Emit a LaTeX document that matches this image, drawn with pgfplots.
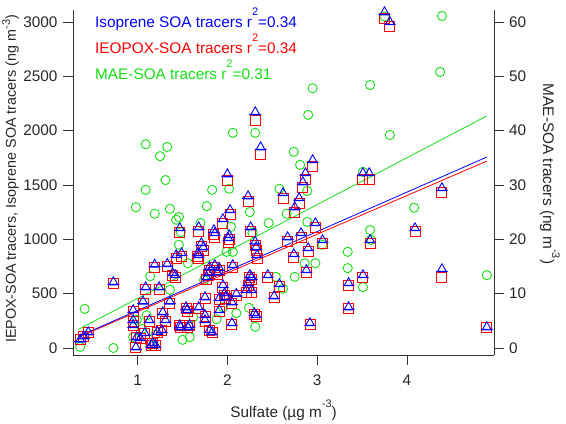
\documentclass[border=0pt]{standalone}
\usepackage{fontspec}
\setmainfont{Liberation Sans}
\usepackage{pgfplots}
\pgfplotsset{compat=1.18}
\definecolor{cblue}{RGB}{0,0,255}
\definecolor{cred}{RGB}{255,0,0}
\definecolor{cgreen}{RGB}{20,225,20}
\definecolor{taxis}{RGB}{50,50,50}
\newcommand{\spx}[2][0.8em]{\raisebox{#1}{\fontsize{11}{11}\selectfont #2}}
\pgfdeclareplotmark{tribar}{%
  \pgfpathmoveto{\pgfqpoint{0pt}{1.05\pgfplotmarksize}}%
  \pgfpathlineto{\pgfqpoint{-0.9\pgfplotmarksize}{-0.55\pgfplotmarksize}}%
  \pgfpathlineto{\pgfqpoint{0.9\pgfplotmarksize}{-0.55\pgfplotmarksize}}%
  \pgfpathclose
  \pgfpathmoveto{\pgfqpoint{-1.2\pgfplotmarksize}{-0.45\pgfplotmarksize}}%
  \pgfpathlineto{\pgfqpoint{1.2\pgfplotmarksize}{-0.45\pgfplotmarksize}}%
  \pgfusepathqstroke
}
\pgfplotsset{
  common/.style={
    scale only axis, width=421bp, height=345bp, at={(0,0)}, anchor=south west,
    xmin=0.28, xmax=4.97, clip=false,
    tick align=outside, major tick length=10bp,
    axis line style={taxis, line width=0.8bp},
    every tick/.style={taxis, line width=0.8bp},
    tick label style={text=black!85},
    /pgf/number format/assume math mode=true,
    /pgf/number format/1000 sep={},
  }
}
\begin{document}
\begin{tikzpicture}[font=\fontsize{15.4}{18}\selectfont]
% right axis: MAE-SOA tracers
\begin{axis}[common,
  ymin=-1.29, ymax=62.2,
  axis x line=none, axis y line*=right,
  ytick={0,10,20,30,40,50,60},
  yticklabel style={xshift=1.5bp},
]
\addplot[only marks, mark=o, mark size=4.6bp, cgreen, mark options={line width=0.9bp}] table {
x y
3.75 61.0
4.39 61.1
4.37 50.8
3.59 48.4
2.95 47.8
2.90 42.9
3.81 39.2
2.31 39.6
2.06 39.6
2.74 36.1
2.81 33.7
3.51 32.4
2.58 29.3
2.89 28.9
2.02 29.3
1.83 29.1
1.09 37.5
1.33 37.0
1.25 35.3
1.31 30.9
1.09 29.1
0.98 25.9
1.19 24.7
1.36 25.6
1.46 24.1
1.43 23.6
1.48 21.3
1.77 26.1
1.70 23.0
2.04 22.3
2.25 25.0
2.28 21.2
2.46 23.0
2.66 24.7
2.89 23.2
3.06 19.0
3.59 21.7
3.60 19.9
4.08 25.8
4.89 13.4
3.34 17.7
3.34 14.7
3.51 11.2
2.75 13.1
2.86 15.6
2.98 15.6
2.62 10.9
2.54 13.1
2.31 3.9
2.24 7.4
2.10 6.4
1.88 5.3
1.99 17.7
2.06 17.7
1.95 7.5
1.74 12.5
1.62 5.7
1.56 15.6
1.46 19.0
1.36 10.7
1.14 13.2
0.99 5.2
0.95 2.0
1.14 0.6
1.50 1.5
1.58 2.0
0.41 7.2
0.36 0.2
0.73 0.0
1.05 3.5
1.20 2.5
1.10 6.0
};
\addplot[cgreen, line width=0.8bp, no marks] coordinates {(0.34,3.42) (4.89,42.7)};
\end{axis}
% left axis: IEPOX-SOA and isoprene SOA tracers
\begin{axis}[common,
  ymin=-64, ymax=3110,
  axis x line*=bottom, axis y line*=left,
  xtick={1,2,3,4},
  ytick={0,500,1000,1500,2000,2500,3000},
  xticklabel style={yshift=-6bp},
  yticklabel style={xshift=-2bp},
]
\addplot[only marks, mark=square, mark size=5bp, cred, mark options={line width=0.9bp}] table {
x y
0.36 75
0.40 105
0.45 140
0.73 590
0.95 248
0.95 204
0.95 337
0.98 5
0.99 96
1.03 88
1.06 414
1.08 132
1.09 541
1.13 248
1.15 25
1.17 42
1.20 25
1.22 144
1.24 541
1.27 159
1.28 318
1.31 248
1.36 414
1.19 743
1.33 747
1.39 665
1.42 648
1.47 204
1.48 185
1.55 337
1.56 185
1.58 204
1.54 363
1.68 363
1.75 292
1.75 248
1.75 452
1.80 159
1.83 141
1.91 337
1.91 443
1.97 488
1.98 452
2.05 221
2.05 407
2.10 482
2.21 515
2.23 577
2.25 648
2.30 310
2.32 292
1.95 559
1.77 630
1.79 665
1.80 718
1.86 737
1.89 674
1.91 710
2.06 737
2.27 630
2.27 515
1.43 826
1.49 843
1.47 1065
1.67 843
1.68 826
1.71 932
1.73 896
1.68 1074
1.85 1048
1.86 1020
1.95 1145
2.01 976
2.02 1003
2.03 1225
2.00 1544
2.23 1349
2.26 1074
2.32 896
2.33 826
2.31 945
2.31 2095
2.37 1784
2.45 648
2.52 461
2.58 568
2.62 1376
2.67 985
2.74 834
2.75 1251
2.80 1331
2.82 1020
2.84 1473
2.87 1553
2.88 693
2.90 888
2.92 221
2.95 1669
2.98 1110
3.06 959
3.35 577
3.35 363
3.51 648
3.51 1553
3.58 1553
3.59 959
3.75 3030
3.81 2960
4.09 1075
4.39 1430
4.39 653
4.89 190
};
\addplot[only marks, mark=tribar, mark size=5bp, cblue, mark options={line width=0.9bp}] table {
x y
0.36 80
0.40 110
0.45 147
0.73 607
0.95 258
0.95 212
0.95 350
0.98 9
0.99 101
1.03 92
1.06 430
1.08 138
1.09 561
1.13 258
1.15 28
1.17 46
1.20 28
1.22 150
1.24 561
1.27 166
1.28 331
1.31 258
1.36 430
1.19 770
1.33 775
1.39 690
1.42 672
1.47 212
1.48 193
1.55 350
1.56 193
1.58 212
1.54 377
1.68 377
1.75 304
1.75 258
1.75 469
1.80 166
1.83 147
1.91 350
1.91 460
1.97 506
1.98 469
2.05 230
2.05 423
2.10 500
2.21 534
2.23 598
2.25 672
2.30 322
2.32 304
1.95 580
1.77 653
1.79 690
1.80 745
1.86 764
1.89 699
1.91 736
2.06 764
2.27 653
2.27 534
1.43 856
1.49 874
1.47 1104
1.67 874
1.68 856
1.71 966
1.73 929
1.68 1113
1.85 1086
1.86 1058
1.95 1187
2.01 1012
2.02 1040
2.03 1270
2.00 1600
2.23 1398
2.26 1113
2.32 929
2.33 856
2.31 980
2.31 2171
2.37 1849
2.45 672
2.52 478
2.58 589
2.62 1426
2.67 1021
2.74 865
2.75 1297
2.80 1380
2.82 1058
2.84 1527
2.87 1610
2.88 718
2.90 920
2.92 230
2.95 1730
2.98 1150
3.06 994
3.35 598
3.35 377
3.51 672
3.51 1610
3.58 1610
3.59 994
3.75 3091
3.81 3000
4.09 1104
4.39 1472
4.39 727
4.89 193
};
\addplot[cred, line width=0.8bp, no marks] coordinates {(0.34,100) (4.89,1720)};
\addplot[cblue, line width=0.8bp, no marks] coordinates {(0.34,107) (4.89,1757)};
\end{axis}
% legend (coloured text)
\node[anchor=base west, text=cblue, inner sep=0pt] at (22bp,327bp) {Isoprene SOA tracers r\spx{2}=0.34};
\node[anchor=base west, text=cred, inner sep=0pt] at (22bp,301bp) {IEOPOX-SOA tracers r\spx{2}=0.34};
\node[anchor=base west, text=cgreen, inner sep=0pt] at (22bp,275bp) {MAE-SOA tracers r\spx{2}=0.31};
% axis labels
\node[anchor=base, inner sep=0pt, text=black!85] at (210.5bp,-62bp) {Sulfate (µg m\spx[0.6em]{-3})};
\node[rotate=90, anchor=base, inner sep=0pt, text=black!85, font=\fontsize{14.4}{17}\selectfont] at (-57bp,176bp) {IEPOX-SOA tracers, Isoprene SOA tracers (ng m\spx[0.42em]{-3})};
\node[rotate=-90, anchor=base, inner sep=0pt, text=black!85] at (470bp,181bp) {MAE-SOA tracers (ng m\spx[0.6em]{-3})};
\pgfresetboundingbox
\useasboundingbox (-73bp,-69bp) rectangle (493bp,355bp);
\end{tikzpicture}
\end{document}
